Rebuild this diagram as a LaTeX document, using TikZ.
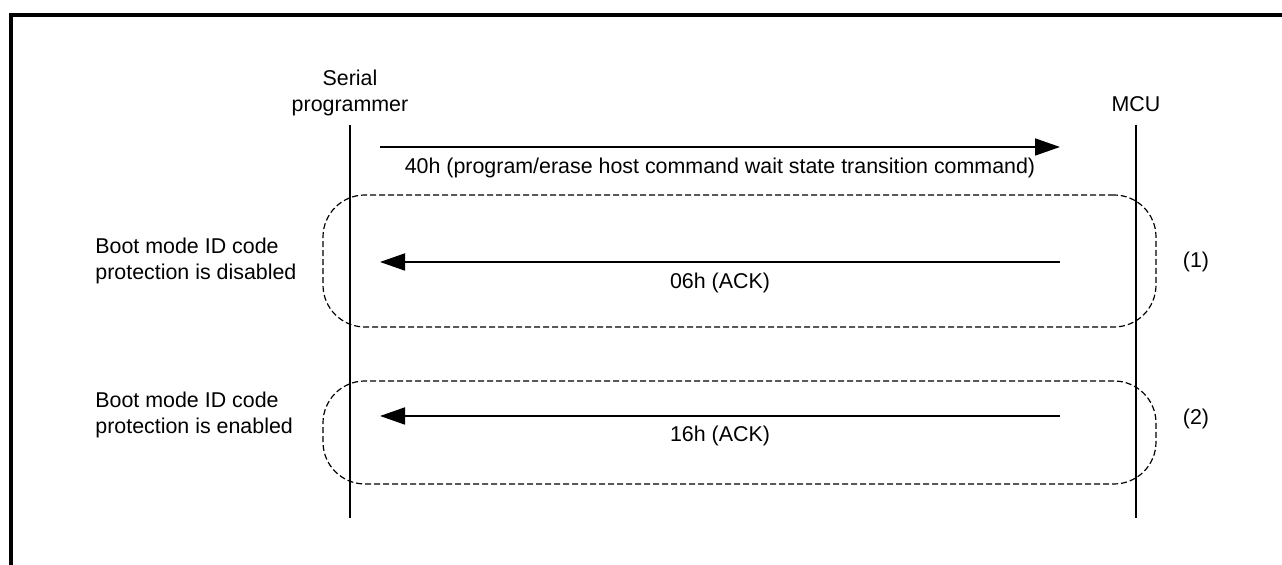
\documentclass[tikz,border=0pt]{standalone}
\usepackage{fontspec}
\setmainfont{Liberation Sans}
\usetikzlibrary{arrows.meta,positioning}

\begin{document}
\begin{tikzpicture}[
  x=0.5pt, y=-0.5pt,
  lbl/.style={font=\fontsize{10.7}{13}\selectfont, inner sep=0pt},
  lifeline/.style={line width=0.9pt},
  msg/.style={line width=0.9pt, -{Triangle[length=12.5pt,width=8.5pt]}},
  grp/.style={draw, line width=0.6pt, dash pattern=on 3pt off 1.5pt, rounded corners=21pt},
  frame/.style={line width=1.6pt}]
  \useasboundingbox (0,0) rectangle (1282,565);

  % outer frame, open at bottom and right
  \draw[frame] (11,575) -- (11,15) -- (1295,15);

  % lifeline heads
  \node[lbl, align=center, anchor=south] (sp) at (350,116) {Serial\\programmer};
  \node[lbl, anchor=base] (mcu) at (1136,112) {MCU};
  \coordinate (spTop) at (350,125);
  \coordinate (spBot) at (350,518);
  \coordinate (mcuTop) at (1136,125);
  \coordinate (mcuBot) at (1136,518);
  \draw[lifeline] (spTop) -- (spBot);
  \draw[lifeline] (mcuTop) -- (mcuBot);

  % command from programmer to MCU
  \coordinate (cmdS) at (380,147);
  \coordinate (cmdE) at (1060,147);
  \draw[msg] (cmdS) -- (cmdE);
  \node[lbl] (cmdLbl) at (720,168) {40h (program/erase host command wait state transition command)};

  % case (1): ID code protection disabled
  \node[grp, minimum width=416.5pt, minimum height=66pt] (box1) at (739.5,261) {};
  \coordinate (ackAs) at (1060,262);
  \coordinate (ackAe) at (380,262);
  \draw[msg] (ackAs) -- (ackAe);
  \node[lbl] (ackAlbl) at (720,283) {06h (ACK)};
  \node[lbl, align=left, anchor=west] (caseA) at (95,261) {Boot mode ID code\\protection is disabled};
  \node[lbl] (numA) at (1196,262) {(1)};

  % case (2): ID code protection enabled
  \node[grp, minimum width=416.5pt, minimum height=51.5pt] (box2) at (739.5,432.5) {};
  \coordinate (ackBs) at (1060,416);
  \coordinate (ackBe) at (380,416);
  \draw[msg] (ackBs) -- (ackBe);
  \node[lbl] (ackBlbl) at (720,436) {16h (ACK)};
  \node[lbl, align=left, anchor=west] (caseB) at (95,415) {Boot mode ID code\\protection is enabled};
  \node[lbl] (numB) at (1196,419) {(2)};
\end{tikzpicture}
\end{document}
